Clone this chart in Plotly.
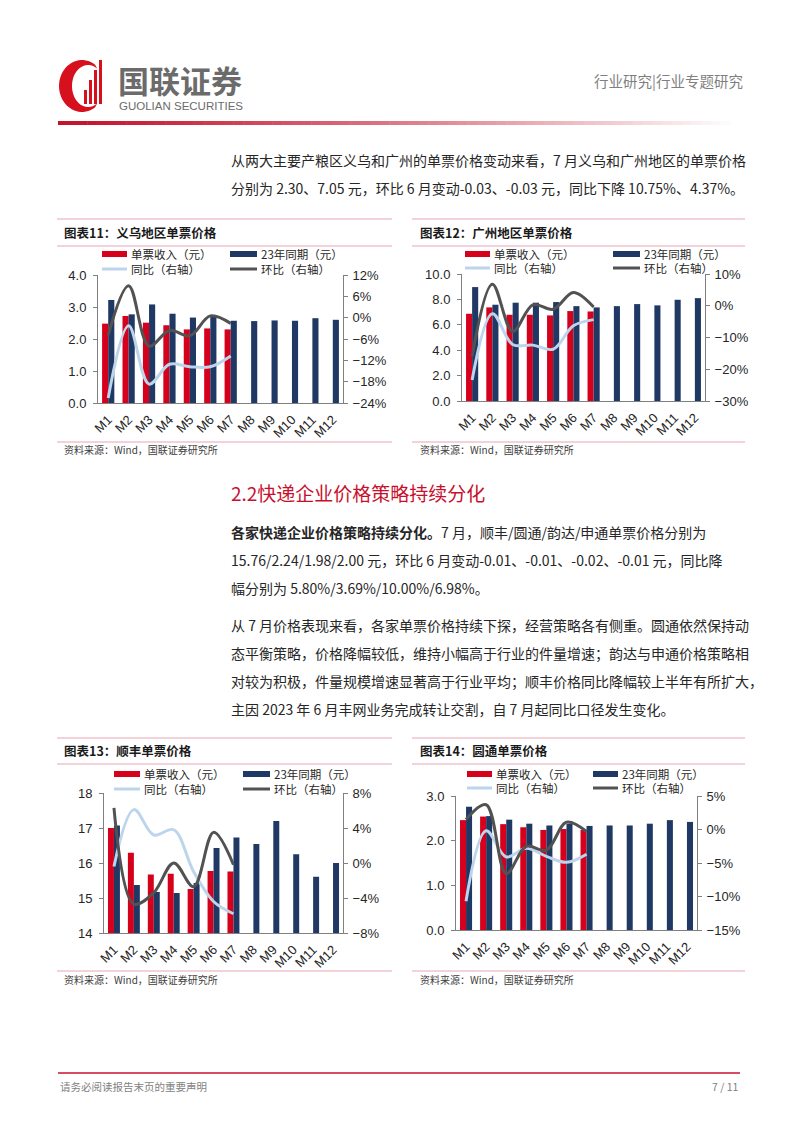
import math
import plotly.graph_objects as go

# page size in the browser; the page body has an 8px default margin
W, H = 802, 1133
OFF = 8
FW, FH = W - OFF, H - OFF

# ---------------- data ----------------
MONTHS = ["M1", "M2", "M3", "M4", "M5", "M6", "M7", "M8", "M9", "M10", "M11", "M12"]

# 图表11 义乌
YW_PRICE = [2.48, 2.72, 2.51, 2.43, 2.30, 2.33, 2.30]
YW_PRICE_23 = [3.22, 2.77, 3.08, 2.79, 2.67, 2.72, 2.57, 2.56, 2.58, 2.57, 2.65, 2.60]
YW_YOY = [-0.226, -0.023, -0.187, -0.131, -0.138, -0.138, -0.1075]
YW_MOM = [-0.049, 0.090, -0.080, -0.036, -0.051, 0.005, -0.016]

# 图表12 广州
GZ_PRICE = [6.87, 7.37, 6.79, 6.79, 6.74, 7.08, 7.05]
GZ_PRICE_23 = [8.97, 7.58, 7.74, 7.74, 7.79, 7.47, 7.37, 7.47, 7.63, 7.53, 7.97, 8.10]
GZ_YOY = [-0.234, -0.025, -0.122, -0.124, -0.137, -0.063, -0.0437]
GZ_MOM = [-0.160, 0.068, -0.081, 0.003, -0.011, 0.042, -0.004]

# 图表13 顺丰
SF_PRICE = [17.00, 16.29, 15.67, 15.69, 15.26, 15.77, 15.76]
SF_PRICE_23 = [17.07, 15.37, 15.17, 15.14, 15.43, 16.43, 16.73, 16.54, 17.20, 16.25, 15.61, 16.00]
SF_YOY = [-0.004, 0.061, 0.032, 0.038, -0.010, -0.044, -0.058]
SF_MOM = [0.063, -0.047, -0.034, 0.000, -0.027, 0.035, -0.002]

# 图表14 圆通
YT_PRICE = [2.46, 2.54, 2.37, 2.30, 2.24, 2.26, 2.24]
YT_PRICE_23 = [2.76, 2.55, 2.47, 2.38, 2.34, 2.38, 2.33, 2.34, 2.34, 2.38, 2.46, 2.42]
YT_YOY = [-0.107, -0.002, -0.041, -0.028, -0.040, -0.049, -0.0369]
YT_MOM = [0.015, 0.037, -0.066, -0.025, -0.031, 0.011, -0.003]

LEGEND_NAMES = ["单票收入（元）", "23年同期（元）", "同比（右轴）", "环比（右轴）"]
SOURCE = "资料来源：Wind，国联证券研究所"

# ---------------- styles ----------------
RED = "#D5001C"
NAVY = "#1F3864"
LIGHT = "#BDD5EC"
DARK = "#525252"
PINK = "#E7A6B6"
AXIS = "#808080"
TXT = "#262626"
CJK = "Noto Sans CJK SC"
NUM = "Liberation Sans, Noto Sans CJK SC"


def px(x):
    return (x - OFF) / FW


def py(y):
    return 1 - (y - OFF) / FH


fig = go.Figure()
shapes = []
annos = []


def text(x, y, s, size, color=TXT, anchor="left", family=CJK):
    annos.append(dict(x=px(x), y=py(y), xref="paper", yref="paper", text=s,
                      showarrow=False, xanchor=anchor, yanchor="middle",
                      font=dict(size=size, color=color, family=family)))


def hline(x0, x1, y, color, width=1):
    shapes.append(dict(type="line", xref="paper", yref="paper",
                       x0=px(x0), x1=px(x1), y0=py(y), y1=py(y),
                       line=dict(color=color, width=width)))


def rect(x0, x1, y0, y1, color):
    shapes.append(dict(type="rect", xref="paper", yref="paper",
                       x0=px(x0), x1=px(x1), y0=py(y1), y1=py(y0),
                       fillcolor=color, line=dict(width=0)))


charts = [
    dict(title="图表11：义乌地区单票价格", price=YW_PRICE, p23=YW_PRICE_23, yoy=YW_YOY, mom=YW_MOM,
         box=(98, 343, 275, 403), lr=[0, 4], ld=1, lf=".1f", rr=[-0.24, 0.12], rd=0.06,
         fx=(57, 392), lines=(219, 246, 442), ty=233, sy=449, tx=62,
         leg=(102, 127, 129, 230, 257, 259), rows=(254, 269)),
    dict(title="图表12：广州地区单票价格", price=GZ_PRICE, p23=GZ_PRICE_23, yoy=GZ_YOY, mom=GZ_MOM,
         box=(462, 705, 274, 401), lr=[0, 10], ld=2, lf=".1f", rr=[-0.30, 0.10], rd=0.10,
         fx=(412, 745), lines=(219, 246, 442), ty=233, sy=449, tx=418,
         leg=(465, 490, 492, 613, 640, 642), rows=(254, 268)),
    dict(title="图表13：顺丰单票价格", price=SF_PRICE, p23=SF_PRICE_23, yoy=SF_YOY, mom=SF_MOM,
         box=(104, 343, 793, 933), lr=[14, 18], ld=1, lf="d", rr=[-0.08, 0.08], rd=0.04,
         fx=(57, 392), lines=(738, 764, 971), ty=751, sy=979, tx=62,
         leg=(114, 140, 142, 243, 270, 272), rows=(774, 789)),
    dict(title="图表14：圆通单票价格", price=YT_PRICE, p23=YT_PRICE_23, yoy=YT_YOY, mom=YT_MOM,
         box=(456, 697, 796, 930), lr=[0, 3], ld=1, lf=".1f", rr=[-0.15, 0.05], rd=0.05,
         fx=(412, 745), lines=(738, 764, 971), ty=751, sy=979, tx=418,
         leg=(467, 492, 494, 593, 618, 620), rows=(774, 788)),
]

layout_axes = {}
eps = 1e-9
for i, c in enumerate(charts):
    xa = "x" if i == 0 else f"x{i + 1}"
    yl_n, yr_n = 2 * i + 1, 2 * i + 2
    yl = "y" if yl_n == 1 else f"y{yl_n}"
    yr = f"y{yr_n}"
    x0, x1, yt, yb = c["box"]
    n = len(c["price"])
    fig.add_trace(go.Bar(x=MONTHS[:n], y=c["price"], xaxis=xa, yaxis=yl, marker_color=RED,
                         marker_line_width=0, width=0.3, offset=-0.3, showlegend=False,
                         name=LEGEND_NAMES[0]))
    fig.add_trace(go.Bar(x=MONTHS, y=c["p23"], xaxis=xa, yaxis=yl, marker_color=NAVY,
                         marker_line_width=0, width=0.3, offset=0.0, showlegend=False,
                         name=LEGEND_NAMES[1]))
    fig.add_trace(go.Scatter(x=MONTHS[:len(c["yoy"])], y=c["yoy"], xaxis=xa, yaxis=yr, mode="lines",
                             line=dict(color=LIGHT, width=3, shape="spline", smoothing=1),
                             showlegend=False, name=LEGEND_NAMES[2]))
    fig.add_trace(go.Scatter(x=MONTHS[:len(c["mom"])], y=c["mom"], xaxis=xa, yaxis=yr, mode="lines",
                             line=dict(color=DARK, width=3, shape="spline", smoothing=1),
                             showlegend=False, name=LEGEND_NAMES[3]))

    xkey = "xaxis" if i == 0 else f"xaxis{i + 1}"
    ylkey = "yaxis" if yl_n == 1 else f"yaxis{yl_n}"
    yrkey = f"yaxis{yr_n}"
    layout_axes[xkey] = dict(domain=[px(x0), px(x1)], anchor=yl, type="category",
                             categoryorder="array", categoryarray=MONTHS, range=[-0.5, 11.5],
                             showline=True, linecolor=AXIS, linewidth=1, ticks="", tickangle=-45,
                             ticklabelstandoff=3,
                             tickfont=dict(size=13, color=TXT, family=NUM), showgrid=False,
                             automargin=False, fixedrange=True)
    layout_axes[ylkey] = dict(domain=[py(yb), py(yt)], anchor=xa, range=[c["lr"][0], c["lr"][1] + eps],
                              dtick=c["ld"], tick0=c["lr"][0], tickformat=c["lf"], showline=True,
                              linecolor=AXIS, linewidth=1, ticks="outside", ticklen=4, tickcolor=AXIS,
                              ticklabelstandoff=4,
                              tickfont=dict(size=13, color=TXT, family=NUM), showgrid=False,
                              zeroline=False, automargin=False)
    layout_axes[yrkey] = dict(overlaying=yl, side="right", anchor=xa,
                              range=[c["rr"][0] - eps, c["rr"][1] + eps], dtick=c["rd"], tick0=0,
                              tickformat=".0%", showline=True, linecolor=AXIS, linewidth=1,
                              ticks="outside", ticklen=4, tickcolor=AXIS, ticklabelstandoff=2,
                              tickfont=dict(size=13, color=TXT, family=NUM), showgrid=False,
                              zeroline=False, automargin=False)

    # frame, title, source
    fa, fb = c["fx"]
    l1, l2, l3 = c["lines"]
    hline(fa, fb, l1, PINK, 1.2)
    hline(fa, fb, l2, PINK, 1.2)
    hline(fa, fb, l3, PINK, 1.2)
    text(c["tx"], c["ty"], "<b>" + c["title"] + "</b>", 12.5, "#1a1a1a")
    text(c["tx"], c["sy"], SOURCE, 10, "#404040")

    # legend
    ra, rb, rt, na, nb, nt = c["leg"]
    r1, r2 = c["rows"]
    rect(ra, rb, r1 - 3, r1 + 3, RED)
    text(rt, r1, LEGEND_NAMES[0], 11.5)
    rect(na, nb, r1 - 3, r1 + 3, NAVY)
    text(nt, r1, LEGEND_NAMES[1], 11.5)
    hline(ra, rb, r2, LIGHT, 3)
    text(rt, r2, LEGEND_NAMES[2], 11.5)
    hline(na, nb, r2, DARK, 3)
    text(nt, r2, LEGEND_NAMES[3], 11.5)

# ---------------- header ----------------
# logo crescent
pts = []
for k in range(41):
    th = math.radians(55 + 250 * k / 40)
    pts.append((82 + 23 * math.cos(th), 86 - 26 * math.sin(th)))
for k in range(41):
    th = math.radians(305 - 250 * k / 40)
    pts.append((88 + 16 * math.cos(th), 86 - 21 * math.sin(th)))
path = "M " + " L ".join(f"{px(a):.5f} {py(b):.5f}" for a, b in pts) + " Z"
shapes.append(dict(type="path", xref="paper", yref="paper", path=path,
                   fillcolor="#D7101E", line=dict(width=0)))
for bx, top in [(84, 90), (89, 80), (94, 70), (99, 60)]:
    rect(bx, bx + 3, top, 104, "#D7101E")

text(116, 79, "<b>国联证券</b>", 31, "#6B6B6B")
text(117, 106, "GUOLIAN SECURITIES", 11.5, "#6B6B6B", family="Liberation Sans")
text(745, 80, "行业研究|行业专题研究", 14.5, "#7F7F7F", anchor="right")

# gradient rule
nseg = 70
for k in range(nseg):
    t = k / (nseg - 1)
    f = t ** 1.2
    r = int(196 + (255 - 196) * f)
    g = int(20 + (255 - 20) * f)
    b = int(45 + (255 - 45) * f)
    xa0 = 58 + (740 - 58) * k / nseg
    xa1 = 58 + (740 - 58) * (k + 1) / nseg + 0.5
    rect(xa0, xa1, 121, 125, f"rgb({r},{g},{b})")

# ---------------- body text ----------------
BODY = 14
text(229, 160, "从两大主要产粮区义乌和广州的单票价格变动来看，7 月义乌和广州地区的单票价格", BODY)
text(229, 188, "分别为 2.30、7.05 元，环比 6 月变动-0.03、-0.03 元，同比下降 10.75%、4.37%。", BODY)

text(229, 492, "2.2快递企业价格策略持续分化", 19, "#C8102E")

text(229, 532, "<b>各家快递企业价格策略持续分化。</b>7 月，顺丰/圆通/韵达/申通单票价格分别为", BODY)
text(229, 560, "15.76/2.24/1.98/2.00 元，环比 6 月变动-0.01、-0.01、-0.02、-0.01 元，同比降", BODY)
text(229, 588, "幅分别为 5.80%/3.69%/10.00%/6.98%。", BODY)

text(229, 625, "从 7 月价格表现来看，各家单票价格持续下探，经营策略各有侧重。圆通依然保持动", BODY)
text(229, 653, "态平衡策略，价格降幅较低，维持小幅高于行业的件量增速；韵达与申通价格策略相", BODY)
text(229, 681, "对较为积极，件量规模增速显著高于行业平均；顺丰价格同比降幅较上半年有所扩大，", BODY)
text(229, 709, "主因 2023 年 6 月丰网业务完成转让交割，自 7 月起同比口径发生变化。", BODY)

# ---------------- footer ----------------
hline(58, 740, 1073, "#C8102E", 1.5)
text(58, 1086, "请务必阅读报告末页的重要声明", 10.5, "#7F7F7F")
text(740, 1086, "7 / 11", 10.5, "#7F7F7F", anchor="right")

fig.update_layout(width=FW, height=FH, margin=dict(l=0, r=0, t=0, b=0),
                  paper_bgcolor="white", plot_bgcolor="rgba(0,0,0,0)",
                  barmode="overlay", showlegend=False,
                  font=dict(family=CJK, color=TXT),
                  shapes=shapes, annotations=annos, **layout_axes)

fig.write_html("out.html")
